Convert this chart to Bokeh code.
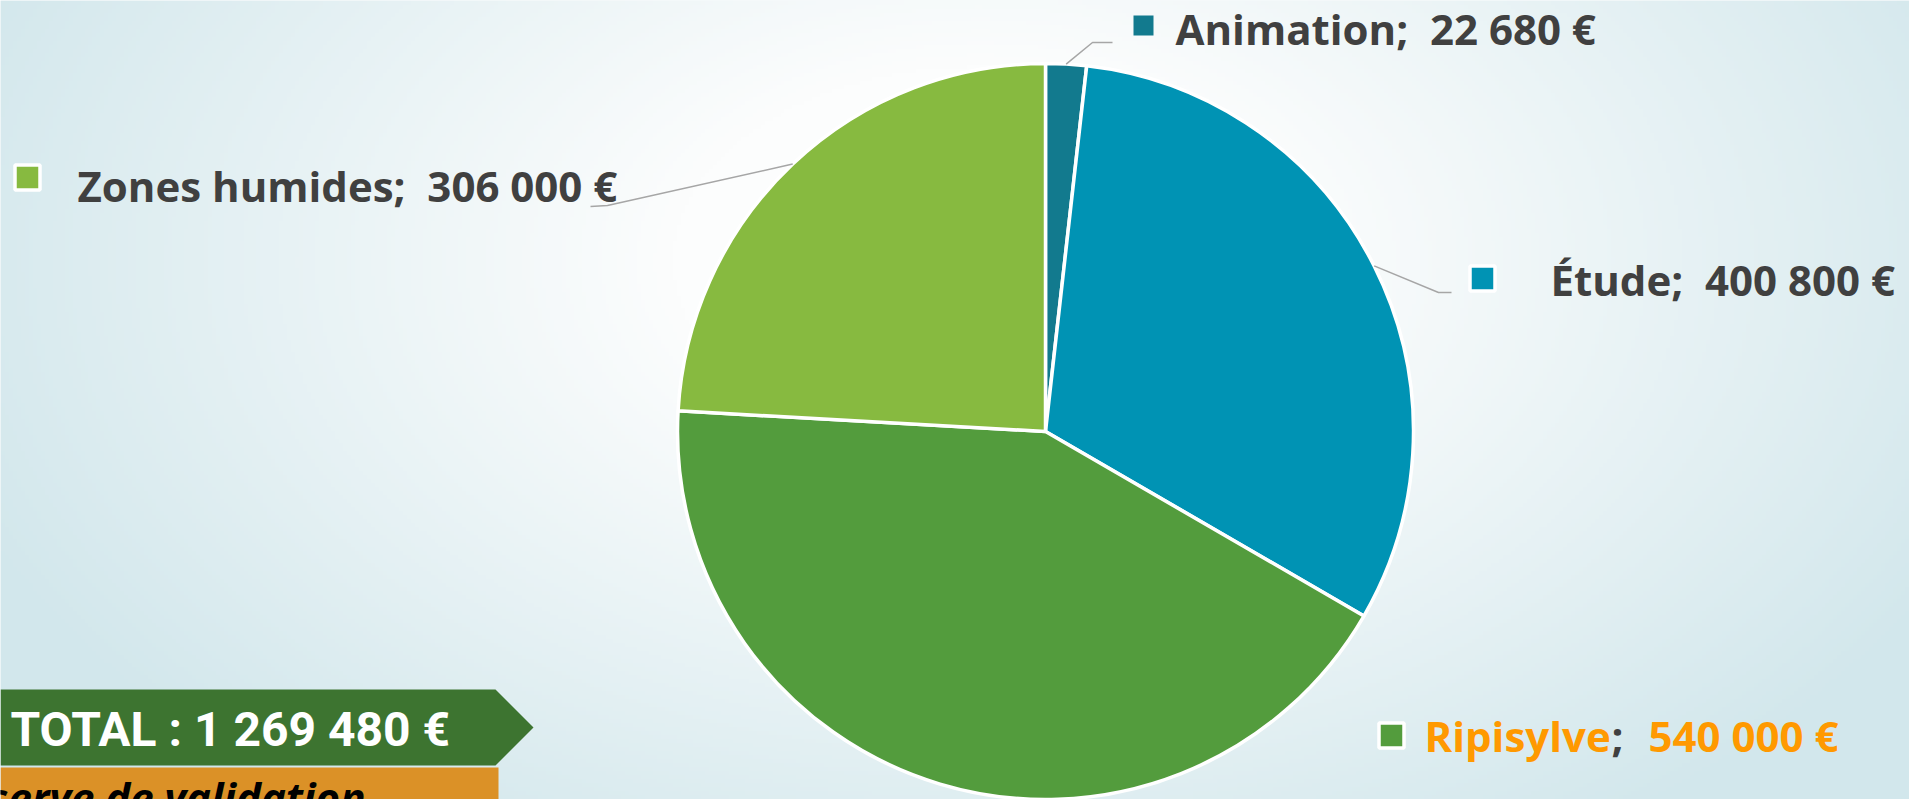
import numpy as np
from bokeh.plotting import figure
from bokeh.models import Range1d, ColumnDataSource
from bokeh.core.properties import value
from bokeh.embed import file_html
from bokeh.resources import INLINE

# ---------------- data ----------------
categories = ["Animation", "Étude", "Ripisylve", "Zones humides"]
amounts = [22680, 400800, 540000, 306000]
amount_labels = ["22 680 €", "400 800 €", "540 000 €", "306 000 €"]
colors = ["#127a8e", "#0093b4", "#539c3d", "#87ba40"]
total_label = "TOTAL : 1 269 480 €"
note_label = "Sous réserve de validation"

# ---------------- layout (reference pixel coordinates) ----------------
W, H = 1909, 799
REF_H = 799
TB = 16  # text baseline compensation


def Y(y):
    return REF_H - y


CX, CY, R = 1045, 431, 368

p = figure(width=W, height=H, x_range=Range1d(0, W), y_range=Range1d(0, H),
           output_backend="svg", toolbar_location=None, min_border=0)
p.axis.visible = False
p.grid.visible = False
p.outline_line_color = None
p.background_fill_color = "#eef5f7"
p.border_fill_color = "#eef5f7"

# background radial gradient
nx, ny = 480, 200
dx = np.linspace(0, W, nx)
dy = np.linspace(0, H, ny)
X, DY = np.meshgrid(dx, dy)
RY = REF_H - DY
t = np.sqrt(((X - 980) / 1100) ** 2 + ((RY - 260) / 700) ** 2)
f = np.clip((t - 0.28) / 0.72, 0, 1)
img = np.empty((ny, nx), dtype=np.uint32)
view = img.view(dtype=np.uint8).reshape((ny, nx, 4))
view[..., 0] = (252 - 42 * f).astype(np.uint8)
view[..., 1] = (253 - 22 * f).astype(np.uint8)
view[..., 2] = (253 - 17 * f).astype(np.uint8)
view[..., 3] = 255
p.image_rgba(image=[img], x=0, y=0, dw=W, dh=H)

# pie
total = float(sum(amounts))
fr = np.array(amounts) / total
cum = np.concatenate([[0.0], np.cumsum(fr)])
start = np.pi / 2 - cum[:-1] * 2 * np.pi
end = np.pi / 2 - cum[1:] * 2 * np.pi
src = ColumnDataSource(dict(start=start, end=end, color=colors))
p.wedge(x=CX, y=Y(CY), radius=R, start_angle="start", end_angle="end",
        direction="clock", fill_color="color", line_color="white",
        line_width=3.5, source=src)

# leader lines (from wedge mid-angle on the rim)
mid = (start + end) / 2
rim_x = CX + R * np.cos(mid)
rim_y = Y(CY) + R * np.sin(mid)
elbows = {0: [(1092, 42), (1112, 42)],
          1: [(1438, 292), (1451, 292)],
          3: [(607, 205), (590, 206)]}
lx, ly = [], []
for i, pts in elbows.items():
    lx.append([rim_x[i]] + [pt[0] for pt in pts])
    ly.append([rim_y[i]] + [Y(pt[1]) for pt in pts])
p.multi_line(lx, ly, line_color="#a6a6a6", line_width=1.5)

# legend markers
mk_x = [1143, 1482, 1391, 27]
mk_y = [25, 278, 735, 177]
p.rect(x=mk_x[:1], y=[Y(mk_y[0])], width=20, height=20,
       fill_color=colors[0], line_color=None)
p.rect(x=mk_x[1:], y=[Y(v) for v in mk_y[1:]], width=25, height=25,
       fill_color=colors[1:], line_color="white", line_width=3.5)

FONT = value("Open Sans")
TXT = "#404040"
ORANGE = "#ff9900"
lab_size = "42px"

# Animation, Étude, Zones humides labels
sep = ";\u00a0 "
for i, (x0, yb) in {0: (1175, 44), 1: (1550, 295), 3: (77, 201)}.items():
    p.text(x=[x0], y=[Y(yb - TB)], text=[categories[i] + sep + amount_labels[i]],
           text_font=FONT, text_font_style="bold", text_font_size=lab_size,
           text_color=TXT, text_align="left", text_baseline="alphabetic")

# Ripisylve label (orange with grey semicolon)
RB = 751 - TB
p.text(x=[1424], y=[Y(RB)], text=[categories[2]], text_font=FONT,
       text_font_style="bold", text_font_size=lab_size, text_color=ORANGE,
       text_align="left", text_baseline="alphabetic")
p.text(x=[1611], y=[Y(RB)], text=[";"], text_font=FONT,
       text_font_style="bold", text_font_size=lab_size, text_color=TXT,
       text_align="left", text_baseline="alphabetic")
p.text(x=[1838], y=[Y(RB)], text=[amount_labels[2]], text_font=FONT,
       text_font_style="bold", text_font_size=lab_size, text_color=ORANGE,
       text_align="right", text_baseline="alphabetic")

# TOTAL banner
p.patch(x=[0, 495, 533, 495, 0], y=[Y(689), Y(689), Y(727), Y(765), Y(765)],
        fill_color="#3d7430", line_color=None)
p.text(x=[10], y=[Y(745 - TB)], text=[total_label], text_font=value("Roboto"),
       text_font_style="bold", text_font_size="48px", text_color="white",
       text_align="left", text_baseline="alphabetic")

# orange note box
p.quad(left=[0], right=[498], top=[Y(767)], bottom=[Y(810)],
       fill_color="#db9127", line_color=None)
p.text(x=[365], y=[Y(812 - TB)], text=[note_label], text_font=FONT,
       text_font_style="bold italic", text_font_size="42px", text_color="black",
       text_align="right", text_baseline="alphabetic")

open("out.html", "w").write(file_html(p, INLINE))
